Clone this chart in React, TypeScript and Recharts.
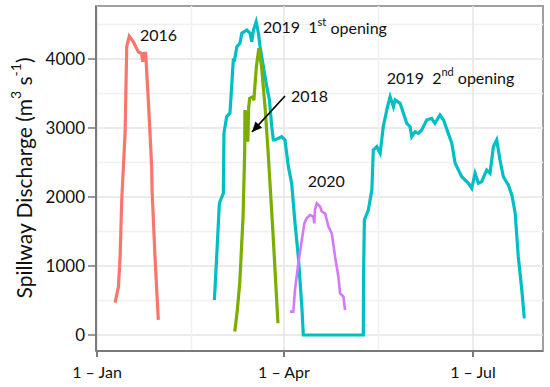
import React from "react";
import {
  LineChart,
  Line,
  XAxis,
  YAxis,
  ReferenceLine,
  ReferenceArea,
  ReferenceDot,
} from "recharts";

// ---- data (x = days since 1 Jan, y = spillway discharge m3/s) ----
const days2016 = [8.7, 10.3, 11.1, 11.9, 13.5, 14.3, 15.5, 17.5, 19.9, 21.5, 22.0, 22.8, 23.4, 24.7, 26.3, 26.5, 27.9, 29.5];
const q2016 = [470, 700, 1135, 1960, 2925, 4180, 4330, 4250, 4100, 4080, 3960, 4080, 4080, 3400, 2440, 2100, 1135, 220];

const days2019 = [
  56.5, 57.6, 58.9, 60.8, 61.1, 62.4, 64.0, 64.9, 65.6, 66.2, 67.3, 68.8, 69.7, 72.1, 73.7, 74.5, 75.3, 76.6, 77.7, 78.5,
  80.1, 81.7, 83.0, 84.1, 84.9, 85.7, 88.9, 90.5, 92.1, 93.7, 95.3, 96.9, 98.6, 99.3, 128.2, 128.3, 128.7, 130.6, 132.3, 133.0,
  134.7, 136.3, 137.8, 139.5, 141.1, 142.7, 143.5, 145.9, 147.5, 149.1, 150.7, 151.5, 153.1, 154.7, 156.3, 158.7, 161.1, 162.7, 165.1, 166.8,
  169.1, 170.8, 172.4, 174.0, 175.6, 178.8, 180.4, 182.0, 183.6, 185.2, 187.6, 189.2, 190.8, 192.4, 194.0, 195.6, 198.0, 199.7, 201.3, 202.8,
  204.5, 205.7,
];
const q2019 = [
  507, 1135, 1913, 2053, 2925, 3164, 3217, 3647, 3985, 3985, 4178, 4227, 4372, 4420, 4372, 4251, 4420, 4540, 4372, 4178,
  3888, 3599, 3406, 3019, 2826, 2826, 2874, 2826, 2440, 2198, 1623, 1135, 410, 0, 0, 845, 1667, 1812, 2101, 2681,
  2729, 2633, 3019, 3261, 3454, 3309, 3406, 3357, 3212, 3068, 3019, 2874, 2946, 2922, 2971, 3116, 3140, 3068, 3188, 3116,
  2922, 2778, 2488, 2391, 2294, 2198, 2126, 2343, 2198, 2222, 2391, 2343, 2729, 2826, 2536, 2294, 2174, 2029, 1768, 1135,
  652, 242,
];

const days2018 = [66.3, 67.5, 68.7, 70.3, 71.1, 71.2, 71.8, 72.3, 72.6, 73.0, 73.5, 75.1, 75.5, 76.7, 77.9, 79.2, 80.9, 82.3, 84.7, 87.1];
const q2018 = [50, 350, 750, 1715, 2681, 3261, 2870, 3250, 2800, 3300, 3430, 3454, 3400, 3888, 4155, 3888, 3300, 2681, 1478, 170];

const days2020 = [92.9, 94.5, 95.3, 96.9, 98.6, 99.8, 100.9, 102.5, 104.1, 104.6, 104.9, 105.8, 107.4, 108.2, 109.8, 111.4, 113.0, 114.6, 116.2, 117.0, 118.6, 119.4];
const q2020 = [338, 338, 652, 1039, 1377, 1618, 1691, 1739, 1715, 1618, 1812, 1908, 1860, 1787, 1763, 1570, 1473, 1135, 845, 604, 555, 362];

const xTicks = [0, 90, 181];
const xTickLabels = ["1 \u2013 Jan", "1 \u2013 Apr", "1 \u2013 Jul"];
const xMinorGrid = [45.5, 135.5];
const yTicks = [0, 1000, 2000, 3000, 4000];
const yMinorGrid = [500, 1500, 2500, 3500, 4500];

const arrowDays = [90.5, 74.6];
const arrowQ = [3464, 2942];

const X_DOMAIN: [number, number] = [-0.5, 214.7];
const Y_DOMAIN: [number, number] = [-232, 4768];

const zip = (d: number[], q: number[]) => d.map((day, i) => ({ day, v: q[i] }));
const data2016 = zip(days2016, q2016);
const data2019 = zip(days2019, q2019);
const data2018 = zip(days2018, q2018);
const data2020 = zip(days2020, q2020);
const arrowData = zip(arrowDays, arrowQ);

const FONT = "Lato, 'Open Sans', sans-serif";

const annText = (parts: React.ReactNode) => (props: any) => {
  const vb = props.viewBox || {};
  return (
    <text x={vb.x} y={vb.y} dominantBaseline="central" fontSize={16} fontFamily={FONT} fill="#111">
      {parts}
    </text>
  );
};

const ArrowHead = (props: any) => {
  const { cx, cy, index } = props;
  if (index !== 1 || cx == null) return <g key={`ah-${index}`} />;
  const ux = -0.676, uy = 0.738; // direction of arrow
  const L = 10, W = 4.5;
  const bx = cx - ux * L, by = cy - uy * L;
  const px = -uy, py = ux;
  const pts = `${cx},${cy} ${bx + px * W},${by + py * W} ${bx - px * W},${by - py * W}`;
  return <polygon key={`ah-${index}`} points={pts} fill="#000" />;
};

const YTitle = () => (
  <text
    x={23}
    y={178}
    transform="rotate(-90, 23, 178)"
    textAnchor="middle"
    dominantBaseline="central"
    fontSize={21}
    fontFamily={FONT}
    fill="#111"
  >
    Spillway Discharge (m<tspan dy={-8} fontSize={14}>3</tspan>
    <tspan dy={8}> s</tspan>
    <tspan dy={-8} fontSize={14}>-1</tspan>
    <tspan dy={8}>)</tspan>
  </text>
);

export default function App() {
  return (
    <div style={{ position: "fixed", left: 0, top: 0, width: 550, height: 387, background: "#fff" }}>
      <LineChart width={550} height={387} margin={{ top: 6, right: 7, bottom: 0, left: 0 }}>
        {yMinorGrid.map((y) => (
          <ReferenceLine key={`ym${y}`} y={y} stroke="#f0f0f0" strokeWidth={1.5} />
        ))}
        {yTicks.map((y) => (
          <ReferenceLine key={`yM${y}`} y={y} stroke="#e4e4e4" strokeWidth={1.5} />
        ))}
        {xMinorGrid.map((x) => (
          <ReferenceLine key={`xm${x}`} x={x} stroke="#f0f0f0" strokeWidth={1.5} />
        ))}
        {xTicks.map((x) => (
          <ReferenceLine key={`xM${x}`} x={x} stroke="#e4e4e4" strokeWidth={1.5} />
        ))}
        <ReferenceArea
          x1={X_DOMAIN[0]}
          x2={X_DOMAIN[1]}
          y1={Y_DOMAIN[0]}
          y2={Y_DOMAIN[1]}
          fill="none"
          fillOpacity={0}
          stroke="#a0a0a0"
          strokeWidth={2}
        />
        <XAxis
          type="number"
          dataKey="day"
          domain={X_DOMAIN}
          allowDataOverflow
          ticks={xTicks}
          height={36}
          tickFormatter={(v: number) => xTickLabels[xTicks.indexOf(v)] ?? ""}
          axisLine={{ stroke: "#7a7a7a", strokeWidth: 2 }}
          tickLine={{ stroke: "#7a7a7a", strokeWidth: 2 }}
          tickSize={6}
          tickMargin={10}
          tick={{ fontSize: 16, fontFamily: FONT, fill: "#111" }}
        />
        <YAxis
          type="number"
          domain={Y_DOMAIN}
          allowDataOverflow
          ticks={yTicks}
          width={96}
          axisLine={{ stroke: "#7a7a7a", strokeWidth: 2 }}
          tickLine={{ stroke: "#7a7a7a", strokeWidth: 1.5 }}
          tickSize={8}
          tickMargin={3}
          tick={{ fontSize: 17, fontFamily: FONT, fill: "#111" }}
          label={{ content: YTitle } as any}
        />
        <Line data={data2019} dataKey="v" stroke="#00BFC4" strokeWidth={3.2} dot={false} activeDot={false} isAnimationActive={false} />
        <Line data={data2016} dataKey="v" stroke="#F8766D" strokeWidth={3.2} dot={false} activeDot={false} isAnimationActive={false} />
        <Line data={data2018} dataKey="v" stroke="#7CAE00" strokeWidth={3.2} dot={false} activeDot={false} isAnimationActive={false} />
        <Line data={data2020} dataKey="v" stroke="#D57AF7" strokeWidth={2.6} dot={false} activeDot={false} isAnimationActive={false} />
        <Line data={arrowData} dataKey="v" stroke="#000" strokeWidth={1.6} dot={ArrowHead} activeDot={false} isAnimationActive={false} />
        <ReferenceDot x={20.7} y={4362} r={0} stroke="none" label={{ content: annText("2016") } as any} />
        <ReferenceDot
          x={79.9}
          y={4464}
          r={0}
          stroke="none"
          label={{
            content: annText(
              <>
                2019{"\u00a0\u00a0"}1<tspan dy={-6} fontSize={11}>st</tspan>
                <tspan dy={6}> opening</tspan>
              </>
            ),
          } as any}
        />
        <ReferenceDot
          x={139.5}
          y={3739}
          r={0}
          stroke="none"
          label={{
            content: annText(
              <>
                2019{"\u00a0\u00a0"}2<tspan dy={-6} fontSize={11}>nd</tspan>
                <tspan dy={6}> opening</tspan>
              </>
            ),
          } as any}
        />
        <ReferenceDot x={93.4} y={3478} r={0} stroke="none" label={{ content: annText("2018") } as any} />
        <ReferenceDot x={101.4} y={2246} r={0} stroke="none" label={{ content: annText("2020") } as any} />
      </LineChart>
    </div>
  );
}
